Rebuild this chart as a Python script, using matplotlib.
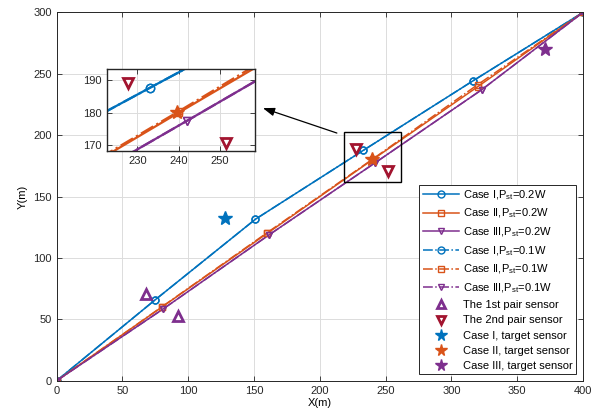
import matplotlib
matplotlib.use("Agg")
import matplotlib.pyplot as plt
from matplotlib.patches import Rectangle

plt.rcParams["font.family"] = ["Liberation Sans", "DejaVu Sans"]
plt.rcParams["mathtext.fontset"] = "custom"
plt.rcParams["mathtext.rm"] = "Liberation Sans"
plt.rcParams["mathtext.sf"] = "Liberation Sans"
plt.rcParams["mathtext.it"] = "Liberation Sans:italic"
plt.rcParams["mathtext.bf"] = "Liberation Sans:bold"
plt.rcParams["mathtext.default"] = "regular"
plt.rcParams["font.size"] = 8

# Trajectories of the mobile node for the three cases (P_st = 0.2W / 0.1W)
case1_x = [0, 75, 151, 233, 316, 400]
case1_y = [0, 66, 131.5, 187.6, 244, 300]
case2_x = [0, 80, 160, 240, 320, 400]
case2_y = [0, 60, 120, 180, 239.5, 300]
case3_x = [0, 81, 161, 242, 323, 400]
case3_y = [0, 58.5, 118.5, 177.5, 237, 300]

case1b_x = [0, 75, 151, 233, 316, 400]
case1b_y = [0, 66, 131.5, 187.6, 244, 300]
case2b_x = [0, 80, 160, 240, 320, 400]
case2b_y = [0, 60.2, 120.6, 180.4, 241.2, 300]
case3b_x = [0, 81, 161, 242, 323, 400]
case3b_y = [0, 58.5, 118.5, 177.5, 237, 300]

# Sensor pairs and target sensors
pair1_x = [68, 92]
pair1_y = [70.5, 52.3]
pair2_x = [227.7, 251.4]
pair2_y = [189, 170.8]
target_x = [128, 239.7, 371]
target_y = [132.5, 180.2, 270.5]

blue = "#0072BD"
orange = "#D95319"
purple = "#7E2F8E"
red = "#A2142F"
grid_c = "#dcdcdc"


def style_axes(ax):
    ax.grid(True, color=grid_c, linewidth=0.7)
    ax.set_axisbelow(True)
    ax.tick_params(direction="in", length=3.5, width=0.6, top=True, right=True,
                   colors="#262626", labelcolor="#262626")
    for s in ax.spines.values():
        s.set_color("#262626")
        s.set_linewidth(0.7)


def draw_all(ax, lw, ms, legend=False):
    lab = (lambda s: s) if legend else (lambda s: "_" + s)
    ax.plot(case1_x, case1_y, "-", color=blue, lw=lw, marker="o", ms=ms,
            mfc="none", mew=1, label=lab("Case I,P$_{st}$=0.2W"))
    ax.plot(case2_x, case2_y, "-", color=orange, lw=lw, marker="s", ms=ms - 1,
            mfc="none", mew=1, label=lab("Case II,P$_{st}$=0.2W"))
    ax.plot(case3_x, case3_y, "-", color=purple, lw=lw, marker="v", ms=ms,
            mfc="none", mew=1, label=lab("Case III,P$_{st}$=0.2W"))
    ax.plot(case1b_x, case1b_y, "-.", color=blue, lw=lw, marker="o", ms=ms,
            mfc="none", mew=1, label=lab("Case I,P$_{st}$=0.1W"))
    ax.plot(case2b_x, case2b_y, "-.", color=orange, lw=lw, marker="s", ms=ms - 1,
            mfc="none", mew=1, label=lab("Case II,P$_{st}$=0.1W"))
    ax.plot(case3b_x, case3b_y, "-.", color=purple, lw=lw, marker="v", ms=ms,
            mfc="none", mew=1, label=lab("Case III,P$_{st}$=0.1W"))
    ax.plot(pair1_x, pair1_y, "^", color=purple, ms=7, mfc="white", mew=2,
            ls="none", label=lab("The 1st pair sensor"))
    ax.plot(pair2_x, pair2_y, "v", color=red, ms=7, mfc="white", mew=2,
            ls="none", label=lab("The 2nd pair sensor"))
    ax.plot(target_x[0], target_y[0], "*", color=blue, ms=10, ls="none",
            label=lab("Case I, target sensor"))
    ax.plot(target_x[1], target_y[1], "*", color=orange, ms=10, ls="none",
            label=lab("Case II, target sensor"))
    ax.plot(target_x[2], target_y[2], "*", color=purple, ms=10, ls="none",
            label=lab("Case III, target sensor"))


fig = plt.figure(figsize=(6.03, 4.2), dpi=100)
ax = fig.add_axes([0.094, 0.0936, 0.873, 0.877])
style_axes(ax)
draw_all(ax, 1.1, 5, legend=True)
ax.set_xlim(0, 400)
ax.set_ylim(0, 300)
ax.set_xticks(range(0, 401, 50))
ax.set_yticks(range(0, 301, 50))
ax.set_xlabel("X(m)", labelpad=2)
ax.set_ylabel("Y(m)", labelpad=4)

ax.add_patch(Rectangle((218, 162), 43.5, 40.2, fill=False, ec="black",
                       lw=1.0, zorder=5))

leg = ax.legend(loc="lower right", bbox_to_anchor=(0.986, 0.018),
                borderaxespad=0, fancybox=False, framealpha=1,
                edgecolor="#262626", handlelength=3.3, handletextpad=0.3,
                borderpad=0.3, labelspacing=0.46, fontsize=8)
leg.get_frame().set_linewidth(0.7)
# slightly smaller sensor/target symbols inside the legend box
for h in leg.legend_handles[6:]:
    h.set_markersize(h.get_markersize() * 0.85)

ax.annotate("", xy=(156.7, 222), xytext=(212.9, 201.7),
            arrowprops=dict(arrowstyle="-|>,head_length=0.7,head_width=0.25",
                            color="black", lw=0.9, mutation_scale=10,
                            shrinkA=0, shrinkB=0), zorder=6)

# Zoomed-in view around the target sensor of Case II
axin = fig.add_axes([0.177, 0.640, 0.246, 0.195])
style_axes(axin)
draw_all(axin, 1.6, 6)
axin.set_xlim(222.6, 258.5)
axin.set_ylim(168.2, 193.3)
axin.set_xticks([230, 240, 250])
axin.set_yticks([170, 180, 190])
for s in axin.spines.values():
    s.set_linewidth(1.0)

fig.savefig("out.png", dpi=100)
